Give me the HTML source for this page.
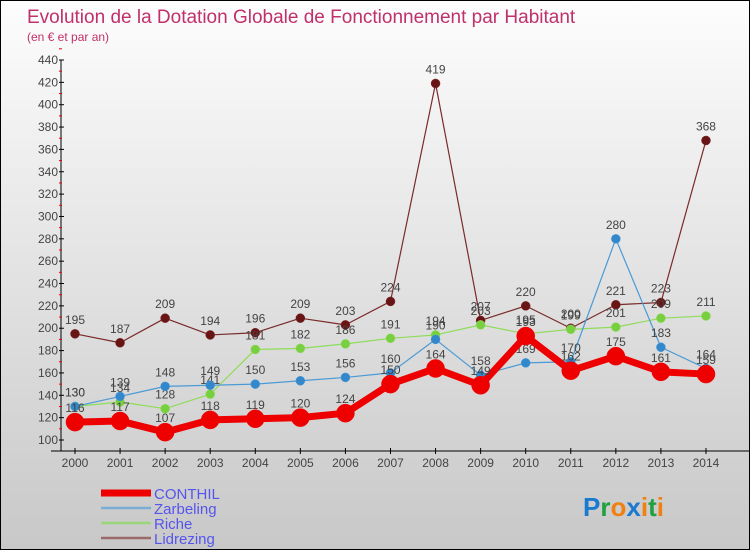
<!DOCTYPE html>
<html><head><meta charset="utf-8"><style>
html,body{margin:0;padding:0}
body{width:750px;height:550px;overflow:hidden;font-family:"Liberation Sans",sans-serif}
#wrap{position:relative;width:748px;height:548px;border:1px solid #000;background:linear-gradient(#fdfdfd,#c8c8c8)}
</style></head><body>
<div id="wrap">
<svg id="chart" width="748" height="548"></svg>
</div>
<script>
const years=["2000","2001","2002","2003","2004","2005","2006","2007","2008","2009","2010","2011","2012","2013","2014"];
const conthil=[116,117,107,118,119,120,124,150,164,149,193,162,175,161,159];
const zarbeling=[130,139,148,149,150,153,156,160,190,158,169,170,280,183,164];
const riche=[130,134,128,141,181,182,186,191,194,203,195,199,201,209,211];
const lidrezing=[195,187,209,194,196,209,203,224,419,207,220,200,221,223,368];
const yTicks=[100,120,140,160,180,200,220,240,260,280,300,320,340,360,380,400,420,440];
const seriesNames=["CONTHIL","Zarbeling","Riche","Lidrezing"];

const NS="http://www.w3.org/2000/svg";
const svg=document.getElementById('chart');
function el(t,a,p){const e=document.createElementNS(NS,t);for(const k in a)e.setAttribute(k,a[k]);(p||svg).appendChild(e);return e;}
const x0=74,xStep=45.07,y0=439,yPer=(439-59)/340;
const X=i=>x0+i*xStep;
const Y=v=>y0-(v-100)*yPer;

let t=el('text',{x:26,y:22,'font-size':19,fill:'#c0306a'});t.textContent="Evolution de la Dotation Globale de Fonctionnement par Habitant";

t=el('text',{x:26,y:40,'font-size':12,fill:'#c0306a'});t.textContent="(en € et par an)";


const ax=el('g',{});
el('line',{x1:60,y1:59,x2:60,y2:450,stroke:'#000'},ax);
el('line',{x1:50,y1:450,x2:748,y2:450,stroke:'#000'},ax);
yTicks.forEach(v=>{
  el('line',{x1:58,y1:Y(v),x2:63,y2:Y(v),stroke:'#000'},ax);
  el('line',{x1:58,y1:Y(v+10),x2:61,y2:Y(v+10),stroke:'#e00'},ax);
  const l=el('text',{x:57,y:Y(v)+4,'font-size':12,fill:'#444','text-anchor':'end'},ax);l.textContent=v;
  
});
years.forEach((y,i)=>{
  el('line',{x1:X(i),y1:447,x2:X(i),y2:453,stroke:'#000'},ax);
  const l=el('text',{x:X(i),y:466,'font-size':12,fill:'#444','text-anchor':'middle'},ax);l.textContent=y;
  
});

function series(data,color,dot,w,r,name,labelColor){
  const g=el('g',{});
  el('polyline',{points:data.map((v,i)=>X(i)+','+Y(v)).join(' '),fill:'none',stroke:color,'stroke-width':w,'stroke-linejoin':'round'},g);
  data.forEach((v,i)=>{
    const c=el('circle',{cx:X(i),cy:Y(v),r:r,fill:dot,stroke:color,'stroke-width':0.5},g);
    
    const l=el('text',{x:X(i),y:Y(v)-10,'font-size':12,fill:'#444','text-anchor':'middle'},g);l.textContent=v;
    
  });
}
series(lidrezing,'#7a2a2a','#6a1515',1.2,4.5,'lidrezing');
series(riche,'#8fdc5a','#78d040',1.2,4.5,'riche');
series(zarbeling,'#4a9ad6','#3388cc',1.2,4.5,'zarbeling');
series(conthil,'#ee0000','#ee0000',7,9,'conthil');

const lg=el('g',{});
const lc=['#ee0000','#7aaed6','#9ad67a','#9a6a6a'],lw=[7,2.5,2.5,2.5];
seriesNames.forEach((n,i)=>{
  const yy=492+i*15;
  el('line',{x1:100,y1:yy,x2:150,y2:yy,stroke:lc[i],'stroke-width':lw[i]},lg);
  const l=el('text',{x:153,y:yy+6,'font-size':15,fill:'#5555ee'},lg);l.textContent=n;
  
});
const lo=el('text',{x:582,y:515,'font-size':26,'font-weight':'bold'});

[['P','#1a7ad0'],['r','#22a040'],['o','#f08010'],['x','#1a7ad0'],['i','#f08010'],['t','#22a040'],['i','#f08010']].forEach(([c,f])=>{const s=el('tspan',{fill:f},lo);s.textContent=c;});
</script>
</body></html>
